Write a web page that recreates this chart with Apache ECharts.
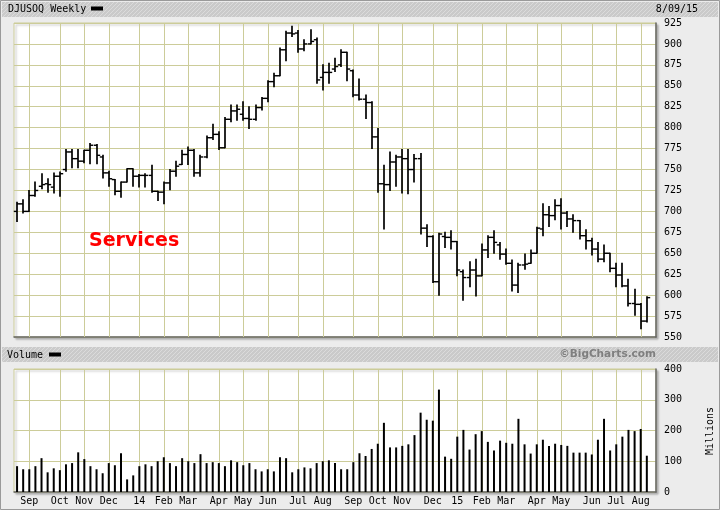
<!DOCTYPE html>
<html><head><meta charset="utf-8">
<script src="https://cdn.jsdelivr.net/npm/echarts@6/dist/echarts.min.js"></script>
<style>html,body{margin:0;padding:0;background:#ececec}#c{width:720px;height:510px}</style>
</head><body><div id="c"></div>
<script>
// ---- data ----
const monthTickIndex = [2,7,11,15,20,24,28,33,37,41,46,50,55,59,63,68,72,76,80,85,89,94,98,102];
const monthTickLabel = ['Sep','Oct','Nov','Dec','14','Feb','Mar','Apr','May','Jun','Jul','Aug',
                        'Sep','Oct','Nov','Dec','15','Feb','Mar','Apr','May','Jun','Jul','Aug'];
const priceOpen = [700,709,700,719,730,733,729,742,750,771,
  763,760,773,779,765,746,738,724,735,751,
  742,743,743,724,723,734,748,756,768,773,
  746,765,788,792,776,810,820,816,811,810,
  824,835,855,862,893,913,913,894,900,905,
  860,866,870,875,890,868,839,834,830,789,
  733,732,759,765,763,750,763,680,670,616,
  670,669,664,628,621,630,623,654,669,660,
  649,638,612,636,638,650,679,696,695,707,
  698,691,689,671,665,655,643,650,632,624,
  611,590,589,569];
const priceHigh = [711,714,725,735,745,739,746,747,774,774,
  774,773,781,780,767,748,738,735,751,751,
  744,745,755,724,735,750,760,773,777,774,
  767,790,804,795,812,827,827,831,825,827,
  836,856,865,895,915,921,916,905,917,907,
  875,877,883,893,890,869,858,839,831,799,
  755,771,767,774,774,768,769,684,671,674,
  675,677,664,630,640,643,661,671,677,663,
  655,642,638,649,654,681,709,706,714,715,
  700,696,689,678,668,663,660,650,638,638,
  619,607,590,598];
const priceLow = [688,698,700,718,727,723,722,718,748,752,
  752,758,757,757,740,730,720,717,735,730,
  729,729,723,713,709,726,742,756,756,742,
  742,764,786,774,776,807,809,809,799,809,
  821,831,849,862,880,909,890,892,900,853,
  845,853,867,873,856,837,833,811,775,723,
  679,725,730,722,721,735,673,658,615,600,
  657,655,623,594,610,599,623,645,650,643,
  637,605,603,631,638,650,671,682,690,679,
  682,675,667,655,648,640,640,628,610,610,
  587,576,560,568];
const priceClose = [709,700,719,725,732,732,742,745,771,763,
  760,773,779,767,746,739,724,735,751,742,
  743,743,724,723,734,748,754,768,773,746,
  765,788,792,776,810,820,822,811,810,824,
  835,855,862,893,913,912,894,900,903,857,
  866,866,873,890,870,839,834,830,789,733,
  732,759,765,763,750,763,680,670,616,673,
  669,664,630,621,630,623,654,669,663,649,
  638,612,636,637,650,680,696,695,707,698,
  691,689,671,665,655,643,650,632,624,611,
  590,589,569,597];
const volumeMillions = [84,74,74,84,110,64,77,71,90,94,
  129,107,84,74,61,94,87,126,41,54,
  84,90,84,100,113,94,84,110,100,94,
  123,94,97,94,84,103,97,87,94,74,
  67,74,67,113,110,64,74,80,77,94,
  100,103,94,74,74,97,126,117,140,157,
  225,145,145,150,155,185,258,235,232,333,
  115,108,180,202,138,188,198,163,135,167,
  160,157,238,155,125,155,170,150,157,153,
  150,128,128,128,122,170,238,135,155,180,
  202,198,205,118];
const priceAxis = {min:550, max:925, step:25};
const volumeAxis = {min:0, max:400, step:100};

// ---- categories: weekly bars starting week of Aug 12, 2013 (+1 empty slot on the right) ----
const weeks = [];
const t0 = Date.UTC(2013,7,12);
for (let i = 0; i <= priceOpen.length; i++) {
  const d = new Date(t0 + i*7*86400000);
  weeks.push(i < priceOpen.length ? (d.getUTCMonth()+1)+'/'+d.getUTCDate()+'/'+d.getUTCFullYear() : ' ');
}
const labelAt = {};
monthTickIndex.forEach((k,j)=>{ labelAt[k] = monthTickLabel[j]; });

const ohlc = priceOpen.map((o,i)=>[i, o, priceHigh[i], priceLow[i], priceClose[i]]);
const volData = volumeMillions.map((v,i)=>[i, v]);

const MONO = '"DejaVu Sans Mono", monospace';
const GRIDC = '#cccc99';

// hatched pattern for header strips
const pc = document.createElement('canvas'); pc.width = 4; pc.height = 4;
const g = pc.getContext('2d');
g.fillStyle = '#cacaca'; g.fillRect(0,0,4,4);
g.fillStyle = '#dbdbdb';
for (let k=0;k<4;k++){ g.fillRect(k,(3-k),1,1); }
const hatch = {image: pc, repeat: 'repeat'};

function renderOHLC(params, api) {
  const i = api.value(0);
  const pO = api.coord([i, api.value(1)]);
  const pH = api.coord([i, api.value(2)]);
  const pL = api.coord([i, api.value(3)]);
  const pC = api.coord([i, api.value(4)]);
  const x = Math.round(pH[0]);
  return {type:'group', children:[
    {type:'line', shape:{x1:x, y1:pH[1]-0.5, x2:x, y2:pL[1]+0.5}, style:{stroke:'#000', lineWidth:1.7}},
    {type:'line', shape:{x1:x-3.2, y1:pO[1], x2:x, y2:pO[1]}, style:{stroke:'#000', lineWidth:1.4}},
    {type:'line', shape:{x1:x, y1:pC[1], x2:x+3.2, y2:pC[1]}, style:{stroke:'#000', lineWidth:1.4}}
  ]};
}
function renderVGrid(params, api) {
  const p = api.coord([api.value(0), api.value(1)]);
  const cs = params.coordSys;
  const x = Math.round(p[0]) + 0.5;
  return {type:'line', shape:{x1:x, y1:cs.y, x2:x, y2:cs.y+cs.height}, style:{stroke:GRIDC, lineWidth:1}};
}

const chart = echarts.init(document.getElementById('c'), null, {renderer:'canvas'});
const gridCommon = {show:true, backgroundColor:'#fff', borderColor:GRIDC, borderWidth:1,
  shadowColor:'rgba(0,0,0,0.25)', shadowOffsetX:2, shadowOffsetY:2, shadowBlur:2};
chart.setOption({
  animation:false,
  backgroundColor:'#ececec',
  grid:[
    Object.assign({left:14, top:23, width:642, height:314}, gridCommon),
    Object.assign({left:14, top:369, width:642, height:123}, gridCommon)
  ],
  xAxis:[
    {type:'category', gridIndex:0, data:weeks, boundaryGap:true,
     axisLine:{show:true, lineStyle:{color:'#666', width:1.5}}, axisTick:{show:false},
     axisLabel:{show:false}, splitLine:{show:false}},
    {type:'category', gridIndex:1, data:weeks, boundaryGap:true,
     axisLine:{show:true, lineStyle:{color:'#666', width:1.5}}, axisTick:{show:false},
     axisLabel:{show:true, interval:(idx)=>labelAt[idx]!==undefined,
       formatter:(v, idx)=>labelAt[idx]||'', fontFamily:MONO, fontSize:10, color:'#000', margin:4},
     splitLine:{show:false}}
  ],
  yAxis:[
    {type:'value', gridIndex:0, position:'right', min:priceAxis.min, max:priceAxis.max, interval:priceAxis.step,
     axisLine:{show:true, lineStyle:{color:'#666', width:1.5}}, axisTick:{show:false},
     axisLabel:{margin:8, fontFamily:MONO, fontSize:10, color:'#000'},
     splitLine:{show:true, lineStyle:{color:GRIDC, width:1}}},
    {type:'value', gridIndex:1, position:'right', min:volumeAxis.min, max:volumeAxis.max, interval:volumeAxis.step,
     axisLine:{show:true, lineStyle:{color:'#666', width:1.5}}, axisTick:{show:false},
     axisLabel:{margin:8, fontFamily:MONO, fontSize:10, color:'#000'},
     splitLine:{show:true, lineStyle:{color:GRIDC, width:1}}}
  ],
  series:[
    {type:'custom', name:'grid-p', xAxisIndex:0, yAxisIndex:0, z:1, silent:true,
     data:monthTickIndex.map(k=>[k, priceAxis.min]), encode:{x:0, y:1}, renderItem:renderVGrid},
    {type:'custom', name:'grid-v', xAxisIndex:1, yAxisIndex:1, z:1, silent:true,
     data:monthTickIndex.map(k=>[k, volumeAxis.min]), encode:{x:0, y:1}, renderItem:renderVGrid},
    {type:'custom', name:'DJUSOQ', xAxisIndex:0, yAxisIndex:0, z:3,
     data:ohlc, encode:{x:0, y:[1,2,3,4]}, renderItem:renderOHLC},
    {type:'bar', name:'Volume', xAxisIndex:1, yAxisIndex:1, z:3, barWidth:2,
     itemStyle:{color:'#000'}, data:volData, encode:{x:0, y:1}}
  ],
  graphic:[
    {type:'rect', silent:true, shape:{x:0.5, y:0.5, width:719, height:509}, style:{fill:'none', stroke:'#9a9a9a', lineWidth:1}},
    {type:'rect', silent:true, shape:{x:2, y:2, width:716, height:15}, style:{fill:hatch}},
    {type:'text', silent:true, x:8, y:9.5, style:{text:'DJUSOQ Weekly', font:'10px '+MONO, fill:'#000', verticalAlign:'middle'}},
    {type:'rect', silent:true, shape:{x:91, y:6.5, width:12, height:4}, style:{fill:'#000'}},
    {type:'text', silent:true, x:698, y:9.5, style:{text:'8/09/15', font:'10px '+MONO, fill:'#000', align:'right', verticalAlign:'middle'}},
    {type:'rect', silent:true, shape:{x:2, y:347, width:716, height:15}, style:{fill:hatch}},
    {type:'text', silent:true, x:7, y:355, style:{text:'Volume', font:'10px '+MONO, fill:'#000', verticalAlign:'middle'}},
    {type:'rect', silent:true, shape:{x:49, y:352.5, width:12, height:4}, style:{fill:'#000'}},
    {type:'text', silent:true, x:656, y:354.5, style:{text:'©BigCharts.com', font:'bold 10.5px "DejaVu Sans"', fill:'#7f7f7f', align:'right', verticalAlign:'middle'}},
    {type:'text', silent:true, x:710, y:431, rotation:Math.PI/2, style:{text:'Millions', font:'10px '+MONO, fill:'#000', align:'center', verticalAlign:'middle'}},
    {type:'text', silent:true, x:89, y:241, z:10, style:{text:'Services', font:'bold 19px "DejaVu Sans"', fill:'#ff0000', verticalAlign:'middle'}}
  ]
});
</script>
</body></html>
